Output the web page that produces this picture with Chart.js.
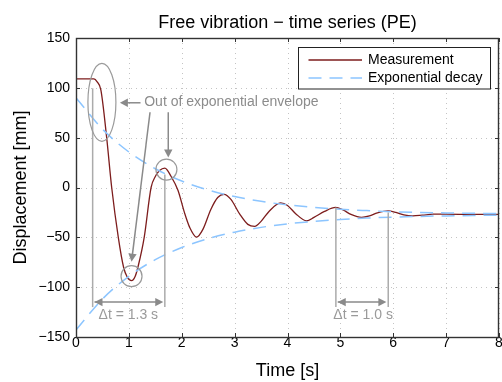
<!DOCTYPE html>
<html><head><meta charset="utf-8">
<script src="https://cdn.jsdelivr.net/npm/chart.js@4/dist/chart.umd.min.js"></script>
<style>html,body{margin:0;padding:0;background:#fff}canvas{display:block}</style>
</head><body>
<canvas id="c" width="502" height="382"></canvas>
<script>
// ---- data ----
const timeMeas = [0, 0.34, 0.40, 0.47, 0.58, 0.675, 0.80, 0.90, 0.97, 1.05, 1.12, 1.18, 1.29, 1.42, 1.50, 1.58, 1.68, 1.80, 1.93, 2.05, 2.15, 2.28, 2.40, 2.55, 2.68, 2.80, 2.93, 3.10, 3.25, 3.38, 3.50, 3.65, 3.87, 4.00, 4.15, 4.36, 4.50, 4.70, 4.91, 5.05, 5.20, 5.40, 5.55, 5.70, 5.90, 6.05, 6.20, 6.37, 6.55, 6.75, 7.00, 7.50, 8.00];
const dispMeas = [109, 109, 106, 98, 50, 0, -50, -80, -90, -93.5, -89, -78, -50, 0, 11, 17, 19.5, 11, -3, -25, -40, -49.8, -42, -22, -10, -6.8, -12, -27, -37, -39, -34, -24, -15.5, -18, -26, -33.5, -30, -24, -20, -22.5, -27, -30, -28.5, -25.5, -23.5, -25, -27.5, -28.5, -27.8, -26.8, -26.8, -27, -27];
const timeEnv = [0, 0.5, 1, 1.5, 2, 2.5, 3, 3.5, 4, 4.5, 5, 5.5, 6, 6.5, 7, 7.5, 8];
const envUpper = [90, 58.6, 35.6, 18.8, 6.5, -2.5, -9.1, -13.9, -17.4, -20, -21.9, -23.2, -24.3, -25, -25.5, -25.9, -26.2];
const envLower = [-143, -111.9, -89.1, -72.4, -60.2, -51.3, -44.8, -40, -36.5, -34, -32.1, -30.7, -29.7, -29, -28.5, -28.1, -27.8];
const xTicks = [0, 1, 2, 3, 4, 5, 6, 7, 8];
const yTicks = [-150, -100, -50, 0, 50, 100, 150];
const seriesLabels = ['Measurement', 'Exponential decay'];
const titleText = 'Free vibration \u2212 time series (PE)';
const xTitle = 'Time [s]';
const yTitle = 'Displacement [mm]';
const annoText = 'Out of exponential envelope';
const dtLabels = ['\u0394t = 1.3 s', '\u0394t = 1.0 s'];

const FONT = '"Liberation Sans", Arial, Helvetica, sans-serif';
const RED = '#7d1d1d', BLUE = '#8cc5ff', GRAY = '#8a8a8a', LGRAY = '#ababab';

const pts = (xs, ys) => xs.map((x, i) => ({x, y: ys[i]}));

const deco = {
  id: 'deco',
  beforeDatasetsDraw(chart) {
    const {ctx, chartArea: a, scales: {x, y}} = chart;
    ctx.save();
    ctx.strokeStyle = '#c4c4c4'; ctx.lineWidth = 1; ctx.setLineDash([1, 4]);
    xTicks.forEach(v => { const px = Math.round(x.getPixelForValue(v)) + 0.5; ctx.beginPath(); ctx.moveTo(px, a.top); ctx.lineTo(px, a.bottom); ctx.stroke(); });
    yTicks.forEach(v => { const py = Math.round(y.getPixelForValue(v)) + 0.5; ctx.beginPath(); ctx.moveTo(a.left, py); ctx.lineTo(a.right, py); ctx.stroke(); });
    ctx.restore();
  },
  afterDatasetsDraw(chart) {
    const {ctx, chartArea: a, scales: {x, y}} = chart;
    const X = t => x.getPixelForValue(t), Y = v => y.getPixelForValue(v);
    ctx.save();
    const line = (t1, v1, t2, v2, col, w) => { ctx.strokeStyle = col; ctx.lineWidth = w; ctx.beginPath(); ctx.moveTo(X(t1), Y(v1)); ctx.lineTo(X(t2), Y(v2)); ctx.stroke(); };
    const head = (xt, yt, ang) => {
      const L = 8, H = 4.2;
      ctx.fillStyle = GRAY; ctx.beginPath();
      ctx.moveTo(xt, yt);
      ctx.lineTo(xt - L * Math.cos(ang) + H * Math.sin(ang), yt - L * Math.sin(ang) - H * Math.cos(ang));
      ctx.lineTo(xt - L * Math.cos(ang) - H * Math.sin(ang), yt - L * Math.sin(ang) + H * Math.cos(ang));
      ctx.closePath(); ctx.fill();
    };
    const arrow = (t1, v1, t2, v2, both) => {
      const x1 = X(t1), y1 = Y(v1), x2 = X(t2), y2 = Y(v2);
      const ang = Math.atan2(y2 - y1, x2 - x1);
      ctx.strokeStyle = GRAY; ctx.lineWidth = 1.5;
      ctx.beginPath(); ctx.moveTo(x1, y1); ctx.lineTo(x2 - 6 * Math.cos(ang), y2 - 6 * Math.sin(ang)); ctx.stroke();
      head(x2, y2, ang);
      if (both) head(x1, y1, ang + Math.PI);
    };
    // vertical reference lines
    line(0.315, 99.5, 0.315, -120, LGRAY, 1.5);
    line(1.68, 13, 1.68, -120, LGRAY, 1.5);
    line(4.915, -20, 4.915, -120, LGRAY, 1.5);
    line(5.905, -25, 5.905, -120, LGRAY, 1.5);
    // double arrows
    arrow(0.35, -115, 1.65, -115, true);
    arrow(4.95, -115, 5.87, -115, true);
    // pointer arrows
    arrow(1.22, 85, 0.83, 85, false);
    arrow(1.40, 75.5, 1.05, -74.5, false);
    arrow(1.745, 75.5, 1.745, 30, false);
    // ellipses / circles
    ctx.strokeStyle = '#9a9a9a'; ctx.lineWidth = 1.2;
    ctx.beginPath(); ctx.ellipse(X(0.49), Y(85.5), 14, 39, 0, 0, 2 * Math.PI); ctx.stroke();
    ctx.beginPath(); ctx.arc(X(1.71), Y(18), 10.5, 0, 2 * Math.PI); ctx.stroke();
    ctx.beginPath(); ctx.arc(X(1.05), Y(-89), 10.5, 0, 2 * Math.PI); ctx.stroke();
    // texts
    ctx.font = '14px ' + FONT; ctx.fillStyle = '#8c8c8c'; ctx.textBaseline = 'middle';
    ctx.textAlign = 'left'; ctx.fillText(annoText, X(1.29), Y(85.5));
    ctx.fillStyle = '#9a9a9a'; ctx.textAlign = 'center';
    ctx.fillText(dtLabels[0], X(0.99), Y(-128.5));
    ctx.fillText(dtLabels[1], X(5.43), Y(-128.5));
    ctx.restore();
  },
  afterDraw(chart) {
    const {ctx, chartArea: a, scales: {x, y}} = chart;
    ctx.save();
    // inward tick marks
    ctx.strokeStyle = '#333'; ctx.lineWidth = 1;
    xTicks.forEach(v => { const px = Math.round(x.getPixelForValue(v)) + 0.5; ctx.beginPath(); ctx.moveTo(px, a.bottom); ctx.lineTo(px, a.bottom - 4); ctx.moveTo(px, a.top); ctx.lineTo(px, a.top + 4); ctx.stroke(); });
    yTicks.forEach(v => { const py = Math.round(y.getPixelForValue(v)) + 0.5; ctx.beginPath(); ctx.moveTo(a.left, py); ctx.lineTo(a.left + 4, py); ctx.moveTo(a.right, py); ctx.lineTo(a.right - 4, py); ctx.stroke(); });
    // frame
    ctx.strokeStyle = '#333'; ctx.lineWidth = 1.4;
    ctx.strokeRect(Math.round(a.left) + 0.5, Math.round(a.top) + 0.5, Math.round(a.right - a.left) - 1, Math.round(a.bottom - a.top));
    // title
    ctx.fillStyle = '#000'; ctx.font = '18px ' + FONT; ctx.textAlign = 'center'; ctx.textBaseline = 'alphabetic';
    ctx.fillText(titleText, (a.left + a.right) / 2, 27.5);
    // legend
    const lx = 298.5, ly = 47.5, lw = 192, lh = 41.5;
    ctx.fillStyle = '#fff'; ctx.fillRect(lx, ly, lw, lh);
    ctx.strokeStyle = '#222'; ctx.lineWidth = 1; ctx.strokeRect(lx, ly, lw, lh);
    const rows = [{c: RED, w: 1.3, d: [], t: seriesLabels[0], y: 60}, {c: BLUE, w: 1.5, d: [13, 8], t: seriesLabels[1], y: 78}];
    rows.forEach(r => {
      ctx.strokeStyle = r.c; ctx.lineWidth = r.w; ctx.setLineDash(r.d);
      ctx.beginPath(); ctx.moveTo(308.5, r.y); ctx.lineTo(362, r.y); ctx.stroke();
      ctx.setLineDash([]);
      ctx.fillStyle = '#000'; ctx.font = '14px ' + FONT; ctx.textAlign = 'left'; ctx.textBaseline = 'middle';
      ctx.fillText(r.t, 368, r.y);
    });
    ctx.restore();
  }
};

const minus = v => String(v).replace('-', '\u2212');

new Chart(document.getElementById('c'), {
  type: 'line',
  data: {
    datasets: [
      {label: seriesLabels[0], data: pts(timeMeas, dispMeas), borderColor: RED, borderWidth: 1.3, pointRadius: 0, cubicInterpolationMode: 'monotone', order: 2},
      {label: seriesLabels[1], data: pts(timeEnv, envUpper), borderColor: BLUE, borderWidth: 1.5, borderDash: [13, 8], pointRadius: 0, cubicInterpolationMode: 'monotone', order: 1},
      {label: seriesLabels[1] + ' (lower)', data: pts(timeEnv, envLower), borderColor: BLUE, borderWidth: 1.5, borderDash: [13, 8], pointRadius: 0, cubicInterpolationMode: 'monotone', order: 1}
    ]
  },
  options: {
    responsive: false, animation: false, devicePixelRatio: 1,
    layout: {padding: {top: 38, right: 3, left: 0, bottom: 0}},
    plugins: {legend: {display: false}, title: {display: false}, tooltip: {enabled: false}},
    scales: {
      x: {
        type: 'linear', min: 0, max: 8,
        afterBuildTicks: s => { s.ticks = xTicks.map(v => ({value: v})); },
        afterFit: s => { s.height = 45; },
        grid: {display: false, drawTicks: false}, border: {display: false},
        ticks: {color: '#000', font: {family: FONT, size: 14}, padding: -2, maxRotation: 0, autoSkip: false, callback: minus},
        title: {display: true, text: xTitle, color: '#000', font: {family: FONT, size: 18}, padding: {top: 0, bottom: 0}}
      },
      y: {
        type: 'linear', min: -150, max: 150,
        afterBuildTicks: s => { s.ticks = yTicks.map(v => ({value: v})); },
        afterFit: s => { s.width = 76; },
        grid: {display: false, drawTicks: false}, border: {display: false},
        ticks: {color: '#000', font: {family: FONT, size: 14}, padding: 6, autoSkip: false, callback: minus},
        title: {display: true, text: yTitle, color: '#000', font: {family: FONT, size: 18}, padding: {top: 10, bottom: 0}}
      }
    }
  },
  plugins: [deco]
});
</script>
</body></html>
